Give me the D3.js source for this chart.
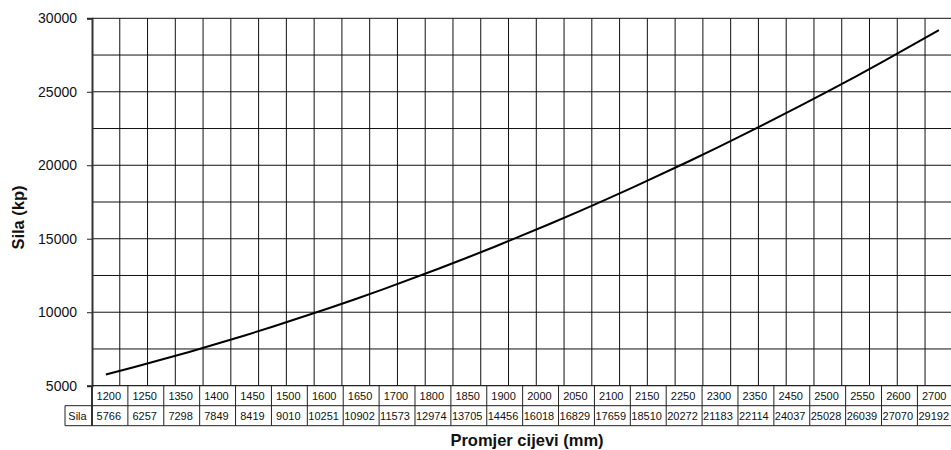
<!DOCTYPE html>
<html>
<head>
<meta charset="utf-8">
<script src="https://cdn.jsdelivr.net/npm/d3@7"></script>
<style>
  body { margin: 0; background: #fff; }
  svg { display: block; font-family: "Liberation Sans", Arial, sans-serif; }
</style>
</head>
<body>
<div id="chart"></div>
<script>
// promjer cijevi (mm) i sila (kp)
const diameters = [1200, 1250, 1350, 1400, 1450, 1500, 1600, 1650, 1700, 1800, 1850, 1900,
                   2000, 2050, 2100, 2150, 2250, 2300, 2350, 2450, 2500, 2550, 2600, 2700];
const forces = [5766, 6257, 7298, 7849, 8419, 9010, 10251, 10902, 11573, 12974, 13705, 14456,
                16018, 16829, 17659, 18510, 20272, 21183, 22114, 24037, 25028, 26039, 27070, 29192];
const yTicks = [5000, 10000, 15000, 20000, 25000, 30000];
const seriesName = "Sila";
const xTitle = "Promjer cijevi (mm)";
const yTitle = "Sila (kp)";

const width = 951, height = 450;
const m = { left: 92, right: 952.8, top: 18.3, bottom: 385.7 };
const rowH = 20;

const svg = d3.select("#chart").append("svg")
    .attr("width", width)
    .attr("height", height);

const x = d3.scaleLinear().domain([1175, 2725]).range([m.left, m.right]);
const y = d3.scaleLinear().domain([5000, 30000]).range([m.bottom, m.top]);
const col = d3.scaleBand().domain(diameters.map(String)).range([m.left, 953.3]);

// grid
svg.append("g")
    .selectAll("line")
    .data(d3.range(1225, 2726, 50))
    .join("line")
      .attr("x1", (d) => x(d)).attr("x2", (d) => x(d))
      .attr("y1", m.top).attr("y2", m.bottom)
      .attr("stroke", "#111").attr("stroke-width", 1);

svg.append("g")
    .selectAll("line")
    .data(d3.range(7500, 30001, 2500))
    .join("line")
      .attr("x1", m.left).attr("x2", m.right)
      .attr("y1", (d) => y(d)).attr("y2", (d) => y(d))
      .attr("stroke", "#111").attr("stroke-width", 1);

// y axis
const yAxis = svg.append("g")
    .attr("transform", `translate(${m.left},0)`)
    .call(d3.axisLeft(y).tickValues(yTicks).tickSize(5).tickPadding(10).tickFormat(d3.format("d")));
yAxis.select(".domain").attr("stroke", "#333").attr("stroke-width", 2);
yAxis.selectAll(".tick line").attr("stroke", "#222");
yAxis.selectAll(".tick text")
    .attr("font-size", 14)
    .attr("font-family", "Liberation Sans, Arial, sans-serif")
    .attr("fill", "#111");

// bottom axis line
svg.append("line")
    .attr("x1", m.left).attr("x2", m.right)
    .attr("y1", m.bottom).attr("y2", m.bottom)
    .attr("stroke", "#222").attr("stroke-width", 1.2);

// line
const line = d3.line()
    .x((d, i) => x(diameters[i]))
    .y((d) => y(d));

svg.append("path")
    .datum(forces)
    .attr("d", line)
    .attr("fill", "none")
    .attr("stroke", "#000")
    .attr("stroke-width", 2);

// data table
const table = svg.append("g");
const r1 = m.bottom, r2 = m.bottom + rowH, r3 = m.bottom + 2 * rowH;

table.selectAll("line.sep")
    .data(diameters.slice(1))
    .join("line")
      .attr("class", "sep")
      .attr("x1", (d) => col(String(d))).attr("x2", (d) => col(String(d)))
      .attr("y1", r1).attr("y2", r3)
      .attr("stroke", "#222");

table.append("line")
    .attr("x1", m.left).attr("x2", m.left).attr("y1", r1).attr("y2", r3)
    .attr("stroke", "#333").attr("stroke-width", 2);
table.append("line")
    .attr("x1", 65).attr("x2", 65).attr("y1", r2).attr("y2", r3)
    .attr("stroke", "#222");
table.append("line")
    .attr("x1", 65).attr("x2", width).attr("y1", r2).attr("y2", r2)
    .attr("stroke", "#222");
table.append("line")
    .attr("x1", 65).attr("x2", width).attr("y1", r3).attr("y2", r3)
    .attr("stroke", "#222");

// left padding in a cell, less when the number barely fits
function placeCell(sel) {
  sel.each(function (d) {
    const start = col(String(d.key));
    const w = this.getComputedTextLength();
    const pad = w < col.bandwidth() - 9 ? 4.6 : 1;
    d3.select(this).attr("x", start + pad);
  });
}

table.selectAll("text.cat")
    .data(diameters.map((d) => ({ key: d, text: d })))
    .join("text")
      .attr("class", "cat")
      .attr("y", r1 + 14)
      .attr("font-size", 11)
      .attr("fill", "#111")
      .text((d) => d.text)
      .call(placeCell);

table.selectAll("text.val")
    .data(forces.map((d, i) => ({ key: diameters[i], text: d })))
    .join("text")
      .attr("class", "val")
      .attr("y", r2 + 14.3)
      .attr("font-size", 11)
      .attr("fill", "#111")
      .text((d) => d.text)
      .call(placeCell);

table.append("text")
    .attr("x", 68.3)
    .attr("y", r2 + 14.3)
    .attr("font-size", 11)
    .attr("fill", "#111")
    .text(seriesName);

// titles
svg.append("text")
    .attr("x", 527)
    .attr("y", 446)
    .attr("text-anchor", "middle")
    .attr("font-size", 16.5)
    .attr("font-weight", "bold")
    .attr("fill", "#111")
    .text(xTitle);

svg.append("text")
    .attr("transform", "translate(23.5,217.5) rotate(-90)")
    .attr("text-anchor", "middle")
    .attr("font-size", 16.5)
    .attr("font-weight", "bold")
    .attr("fill", "#111")
    .text(yTitle);
</script>
</body>
</html>
